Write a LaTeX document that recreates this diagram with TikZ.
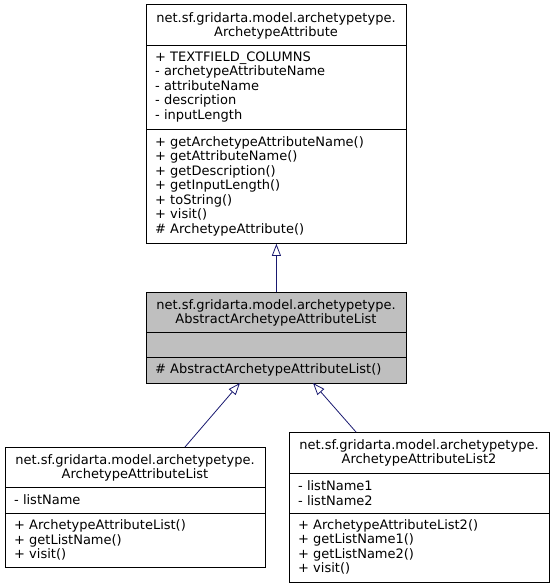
\documentclass[tikz,border=0pt]{standalone}
\usepackage{fontspec}
\setmainfont{DejaVu Sans}
\usetikzlibrary{arrows.meta}
\definecolor{edgecol}{HTML}{191970}
\definecolor{grayfill}{HTML}{BFBFBF}
\tikzset{
  classbox/.style={draw=black, line width=0.8pt, fill=white, anchor=north west, inner sep=0pt, minimum width=260pt},
  sep/.style={draw=black, line width=0.8pt},
  titletxt/.style={align=center, inner sep=0pt, font=\fontsize{13pt}{14.5pt}\selectfont},
  membtxt/.style={align=left, anchor=west, inner sep=0pt, font=\fontsize{13pt}{14.5pt}\selectfont},
  inherit/.style={draw=edgecol, line width=0.8pt, -{Triangle[open, length=12pt, width=9pt, fill=white]}}
}
\begin{document}
\begin{tikzpicture}[x=1pt, y=-1pt]
\useasboundingbox (0,0) rectangle (555,588);
% Class A
\node[classbox, minimum height=239pt] (A) at (146,4) {};
\draw[sep] (146,45) -- (406,45);
\draw[sep] (146,129) -- (406,129);
\node[titletxt] (At) at (276,26) {net.sf.gridarta.model.archetypetype.\\ArchetypeAttribute};
\node[membtxt] (Aa) at (155,87) {+ TEXTFIELD\_COLUMNS\\- archetypeAttributeName\\- attributeName\\- description\\- inputLength};
\node[membtxt] (Am) at (155,186) {+ getArchetypeAttributeName()\\+ getAttributeName()\\+ getDescription()\\+ getInputLength()\\+ toString()\\+ visit()\\\# ArchetypeAttribute()};
% Class B
\node[classbox, fill=grayfill, minimum height=91pt] (B) at (146,292) {};
\draw[sep] (146,332) -- (406,332);
\draw[sep] (146,357) -- (406,357);
\node[titletxt] (Bt) at (276,313) {net.sf.gridarta.model.archetypetype.\\AbstractArchetypeAttributeList};
\node[membtxt] (Bm) at (155,370) {\# AbstractArchetypeAttributeList()};
% Class C
\node[classbox, minimum height=120pt] (C) at (5,447) {};
\draw[sep] (5,487) -- (265,487);
\draw[sep] (5,513) -- (265,513);
\node[titletxt] (Ct) at (135,468) {net.sf.gridarta.model.archetypetype.\\ArchetypeAttributeList};
\node[membtxt] (Ca) at (14,500) {- listName};
\node[membtxt] (Cm) at (14,540) {+ ArchetypeAttributeList()\\+ getListName()\\+ visit()};
% Class D
\node[classbox, minimum height=150pt] (D) at (289,432) {};
\draw[sep] (289,473) -- (549,473);
\draw[sep] (289,513) -- (549,513);
\node[titletxt] (Dt) at (419,453) {net.sf.gridarta.model.archetypetype.\\ArchetypeAttributeList2};
\node[membtxt] (Da) at (298,493) {- listName1\\- listName2};
\node[membtxt] (Dm) at (298,547) {+ ArchetypeAttributeList2()\\+ getListName1()\\+ getListName2()\\+ visit()};
% Connectors
\coordinate (Bsl) at (240,383);
\coordinate (Bsr) at (313,383);
\coordinate (Cn) at (185,447);
\coordinate (Dn) at (356,432);
\draw[inherit] (B.north -| A.south) -- (A.south);
\draw[inherit] (Cn) -- (Bsl);
\draw[inherit] (Dn) -- (Bsr);
\end{tikzpicture}
\end{document}
